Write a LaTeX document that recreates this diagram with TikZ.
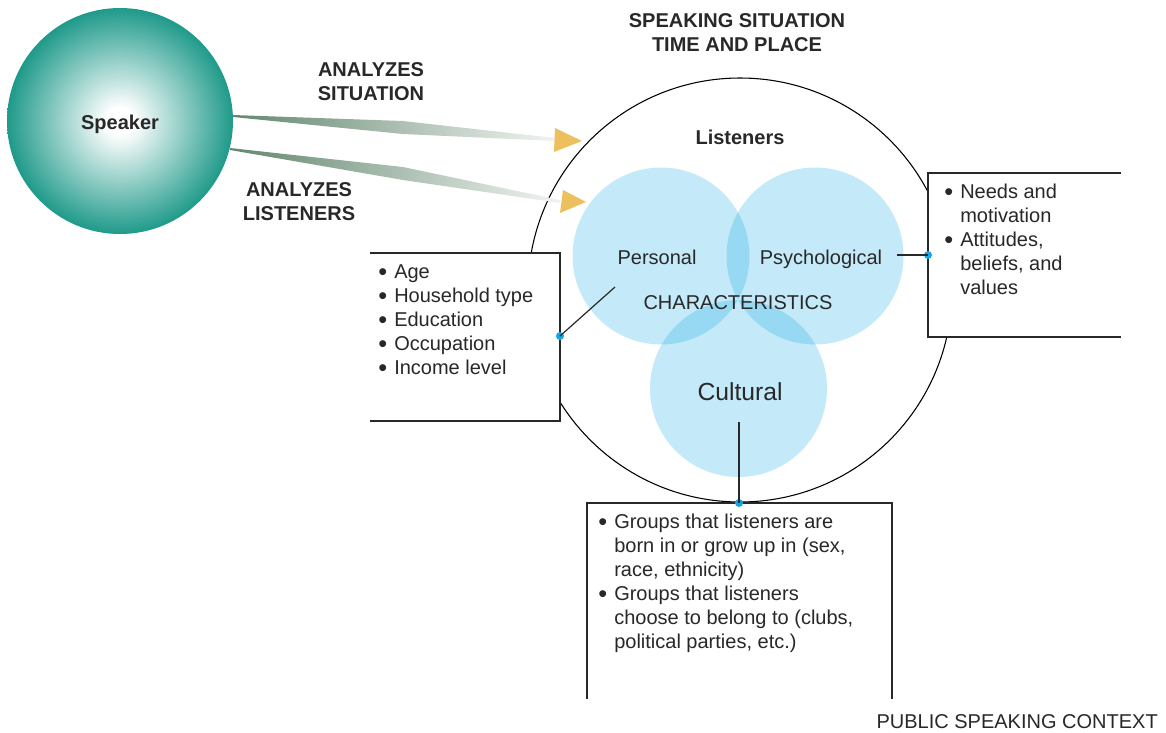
\documentclass[tikz,border=0pt]{standalone}
\usepackage{fontspec}
\setmainfont{Liberation Sans}
\definecolor{speakerteal}{RGB}{0,140,122}
\definecolor{shaftdark}{RGB}{100,135,112}
\definecolor{shaftlight}{RGB}{240,244,240}
\definecolor{headyellow}{RGB}{236,192,92}
\definecolor{vennblue}{RGB}{0,160,226}
\definecolor{dotblue}{RGB}{20,165,230}
\definecolor{inkgray}{RGB}{40,40,40}
\pgfdeclareradialshading{speakershade}{\pgfpoint{0bp}{0bp}}{color(0bp)=(white); color(3bp)=(white); color(28bp)=(speakerteal); color(50bp)=(speakerteal)}
\newcommand{\bodysize}{\fontsize{15}{18}\selectfont}
\newcommand{\bulletmark}{\makebox[12pt][l]{\raisebox{-1.6pt}{\fontsize{19}{19}\selectfont\textbullet}}}
\newcommand{\hangspace}{\hspace*{12pt}}

\begin{document}
\begin{tikzpicture}[x=0.75pt,y=-0.75pt,
		boldtext/.style={font=\bodysize\bfseries,text=inkgray,align=center,inner sep=0pt},
		plaintext/.style={font=\bodysize,text=inkgray,inner sep=0pt},
		listtext/.style={font=\bodysize,text=inkgray,align=left,anchor=north west,inner sep=0pt},
		venn/.style={circle,fill=vennblue,fill opacity=0.23,minimum size=132.75pt,inner sep=0pt},
		bluedot/.style={circle,fill=dotblue,inner sep=0pt,minimum size=6pt},
		edgeline/.style={draw=inkgray,line width=0.9pt},
		shaft/.style={left color=shaftdark,right color=shaftlight},
		headtri/.style={fill=headyellow}]
		
		\useasboundingbox (0,0) rectangle (1166,732);
		
		\node[circle,shade,shading=speakershade,minimum size=169.5pt,inner sep=0pt] (speaker) at (120,121) {};
		\node[boldtext] (speakertext) at (120,124) {Speaker};
		
		\node[circle,draw=black,line width=0.8pt,minimum size=318pt,inner sep=0pt] (situation) at (740,290) {};
		
		\node[venn] (personal) at (661,256) {};
		\node[venn] (psych) at (815,256) {};
		\node[venn] (cultural) at (738.5,388.5) {};
		
		\node[plaintext] (personaltext) at (657,257) {Personal};
		\node[plaintext] (psychtext) at (821,259) {Psychological};
		\node[plaintext] (chartext) at (738,303) {CHARACTERISTICS};
		\node[plaintext,font=\fontsize{18.5}{22}\selectfont] (culturaltext) at (740,392) {Cultural};
		\node[boldtext] (listeners) at (740,137) {Listeners};
		
		\fill[white] (370,253) rectangle (560,421);
		\draw[edgeline] (370,253) -- (560,253) -- (560,421) -- (370,421);
		\fill[white] (928,173) rectangle (1121,337);
		\draw[edgeline] (1121,173) -- (928,173) -- (928,337) -- (1121,337);
		\fill[white] (587,503) rectangle (892,699);
		\draw[edgeline] (587,699) -- (587,503) -- (892,503) -- (892,699);
		
		\node[listtext] (personallist) at (378,264.5) {\bulletmark Age\\\bulletmark Household type\\\bulletmark Education\\\bulletmark Occupation\\\bulletmark Income level};
		\node[listtext] (psychlist) at (944,183.5) {\bulletmark Needs and\\\hangspace motivation\\\bulletmark Attitudes,\\\hangspace beliefs, and\\\hangspace values};
		\node[listtext] (culturallist) at (598,513.5) {\bulletmark Groups that listeners are\\\hangspace born in or grow up in (sex,\\\hangspace race, ethnicity)\\\bulletmark Groups that listeners\\\hangspace choose to belong to (clubs,\\\hangspace political parties, etc.)};
		
		\coordinate (perstail) at (615,287);
		\coordinate (psychtail) at (897,255);
		\coordinate (culttail) at (739,422);
		\node[bluedot] (persdot) at (560,336) {};
		\node[bluedot] (psychdot) at (928,255) {};
		\node[bluedot] (cultdot) at (739,503) {};
		\draw[edgeline] (perstail) -- (persdot.center);
		\draw[edgeline] (psychtail) -- (psychdot.center);
		\draw[edgeline] (culttail) -- (cultdot.center);
		
		\shade[shaft] (233,115) -- (403,121) -- (555,138) -- (555,141) -- (403,134) -- (233,117) -- cycle;
		\fill[headtri] (555,128) -- (582,141) -- (554,152) -- cycle;
		\shade[shaft] (230,148) -- (403,167) -- (560,200) -- (560,203) -- (403,180) -- (230,150) -- cycle;
		\fill[headtri] (563,190) -- (586,202) -- (560,213) -- cycle;
		
		\node[boldtext] (sitlabel) at (371,82) {ANALYZES\\SITUATION};
		\node[boldtext] (listlabel) at (299,202) {ANALYZES\\LISTENERS};
		\node[boldtext] (toplabel) at (737,32.5) {SPEAKING SITUATION\\TIME AND PLACE};
		\node[plaintext,anchor=east] (context) at (1158,721.5) {PUBLIC SPEAKING CONTEXT};
		
	\end{tikzpicture}
\end{document}
